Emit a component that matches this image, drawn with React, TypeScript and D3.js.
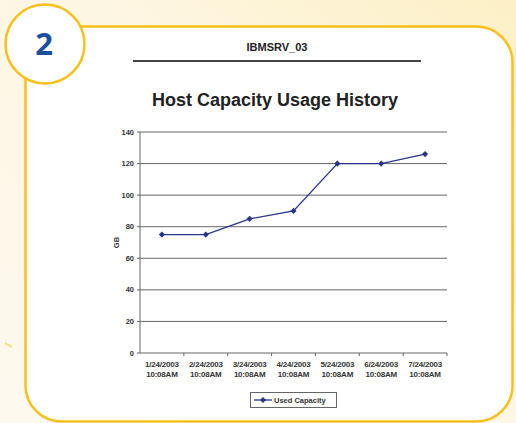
import React from "react";
import { scaleBand, scaleLinear, line, symbol, symbolDiamond2 } from "d3";

const categories = [
  "1/24/2003", "2/24/2003", "3/24/2003", "4/24/2003",
  "5/24/2003", "6/24/2003", "7/24/2003",
];
const timeLabel = "10:08AM";
const usedCapacity = [75, 75, 85, 90, 120, 120, 126];
const yTicks = [0, 20, 40, 60, 80, 100, 120, 140];

const W = 516;
const H = 423;
const plot = { left: 140, right: 447, top: 132, bottom: 353 };

export default function App() {
  const x = scaleBand<string>()
    .domain(categories)
    .range([plot.left, plot.right]);
  const y = scaleLinear().domain([0, 140]).range([plot.bottom, plot.top]);

  const pts = categories.map((c, i) => [x(c)! + x.bandwidth() / 2, y(usedCapacity[i])] as [number, number]);
  const path = line()(pts) || "";
  const diamond = symbol().type(symbolDiamond2).size(24)() || "";
  const lineColor = "#27358a";
  const yellow = "#fbbf1a";

  return (
    <div style={{ position: "fixed", left: 0, top: 0 }}>
      <svg width={W} height={H} style={{ display: "block", fontFamily: "Arial, 'Liberation Sans', sans-serif" }}>
        <defs>
          <linearGradient id="bg" x1="0" y1="1" x2="1" y2="0">
            <stop offset="0" stopColor="#fdf9ef" />
            <stop offset="0.6" stopColor="#fdf6e2" />
            <stop offset="1" stopColor="#fdf0c6" />
          </linearGradient>
        </defs>
        <rect width={W} height={H} fill="url(#bg)" />
        <line x1={5} y1={343} x2={12} y2={347} stroke="#fde08a" strokeWidth={2.5} />
        <rect x={25.5} y={26.5} width={487} height={395} rx={36} fill="#fff" stroke={yellow} strokeWidth={2.5} />
        <circle cx={45} cy={44} r={39.5} fill="#fff" stroke={yellow} strokeWidth={2.5} />
        <text x={44} y={55} textAnchor="middle" fontSize={31} fontWeight="bold" fill="#1a4f9e"
          style={{ fontFamily: "'Open Sans', Arial, sans-serif" }}>2</text>

        <text x={277} y={51} textAnchor="middle" fontSize={11} fontWeight="bold" fill="#222">IBMSRV_03</text>
        <line x1={133} y1={61} x2={421} y2={61} stroke="#444" strokeWidth={2} />
        <text x={275} y={106} textAnchor="middle" fontSize={18} fontWeight="bold" fill="#222">Host Capacity Usage History</text>

        {yTicks.map((t) => (
          <g key={t}>
            {t > 0 && <line x1={plot.left} x2={plot.right} y1={y(t)} y2={y(t)} stroke="#666" strokeWidth={1} />}
            <line x1={plot.left - 3} x2={plot.left} y1={y(t)} y2={y(t)} stroke="#666" />
            <text x={plot.left - 6} y={y(t) + 2.5} textAnchor="end" fontSize={7.5} fontWeight="bold" fill="#333">{t}</text>
          </g>
        ))}
        <line x1={plot.left} x2={plot.left} y1={plot.top} y2={plot.bottom} stroke="#666" />
        <line x1={plot.left} x2={plot.right} y1={plot.bottom} y2={plot.bottom} stroke="#666" />
        {categories.map((c) => (
          <line key={c} x1={x(c)! + x.bandwidth()} x2={x(c)! + x.bandwidth()} y1={plot.bottom} y2={plot.bottom + 3} stroke="#666" />
        ))}
        {categories.map((c) => (
          <text key={c} x={x(c)! + x.bandwidth() / 2} textAnchor="middle" fontSize={8} fontWeight="bold" fill="#333"
            style={{ letterSpacing: "-0.2px" }}>
            <tspan x={x(c)! + x.bandwidth() / 2} y={367}>{c}</tspan>
            <tspan x={x(c)! + x.bandwidth() / 2} y={377}>{timeLabel}</tspan>
          </text>
        ))}
        <text transform={`translate(119,${(plot.top + plot.bottom) / 2}) rotate(-90)`} textAnchor="middle" fontSize={7.5} fontWeight="bold" fill="#333">GB</text>

        <path d={path} fill="none" stroke={lineColor} strokeWidth={1.3} />
        {pts.map((p, i) => (
          <path key={i} d={diamond} transform={`translate(${p[0]},${p[1]})`} fill={lineColor} />
        ))}

        <rect x={250.5} y={392.5} width={86} height={15} fill="#fff" stroke="#666" />
        <line x1={254} x2={272} y1={400} y2={400} stroke={lineColor} strokeWidth={1.3} />
        <path d={diamond} transform="translate(263,400)" fill={lineColor} />
        <text x={274} y={403} fontSize={7.5} fontWeight="bold" fill="#333">Used Capacity</text>
      </svg>
    </div>
  );
}
